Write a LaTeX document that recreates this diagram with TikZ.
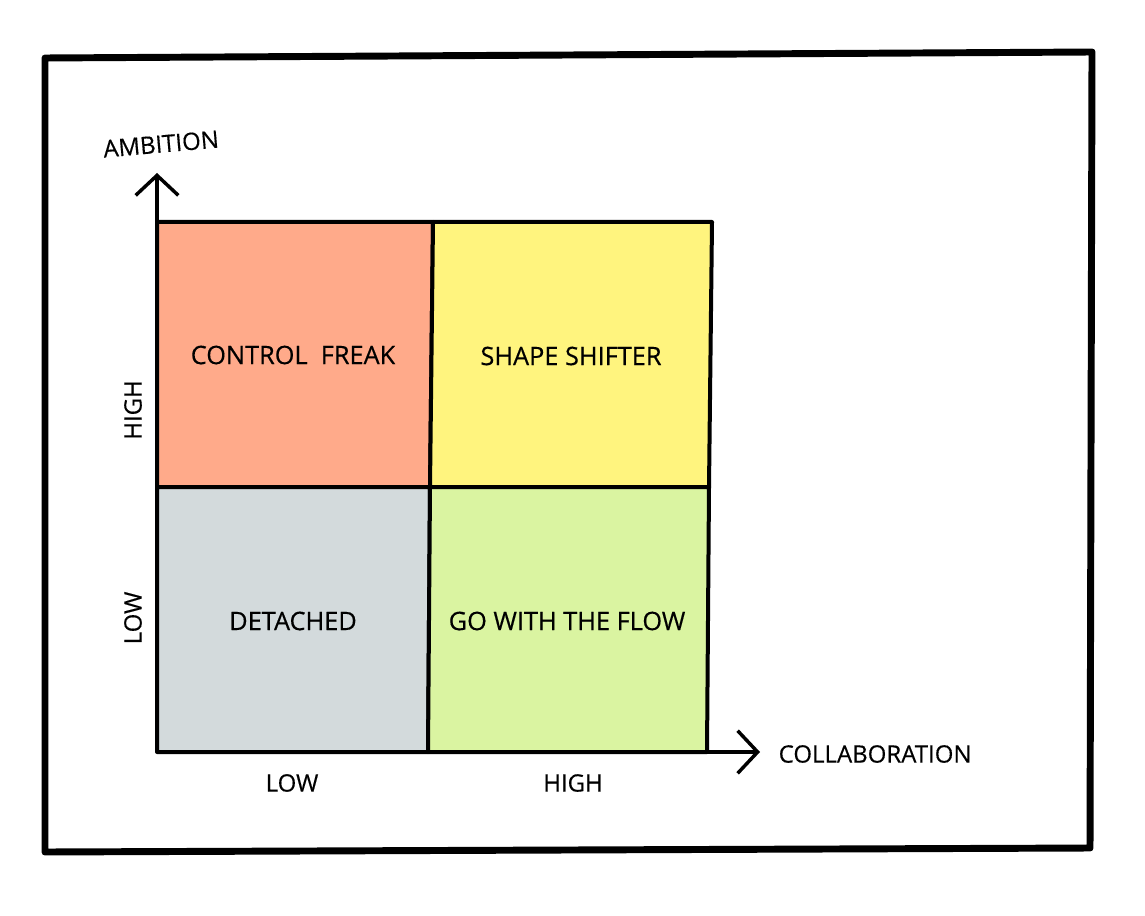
\documentclass[tikz,border=0pt]{standalone}
\usepackage{fontspec}
\setmainfont{Open Sans}[FakeBold=0.4]
\usetikzlibrary{arrows.meta}
\definecolor{freak}{HTML}{FFAA8A}
\definecolor{shifter}{HTML}{FFF47E}
\definecolor{detached}{HTML}{D3DADC}
\definecolor{flow}{HTML}{DAF4A1}
\tikzset{
  cell/.style={draw=black, line width=3pt, line join=round},
  quadlabel/.style={font=\fontsize{19}{22}\selectfont},
  axislabel/.style={font=\fontsize{18}{21}\selectfont},
  axisarrow/.style={line width=2.6pt, -{Straight Barb[length=15pt,width=32pt,line width=2.6pt]}}
}
\begin{document}
\begin{tikzpicture}[x=0.75pt,y=-0.75pt]
    \useasboundingbox (0,0) rectangle (1145,916);

    % Frame
    \draw[line width=5.2pt, line join=round] (45,58) -- (1092,52) -- (1090,848) -- (45,852) -- cycle;

    % Corners of the grid
    \coordinate (tl) at (157,222);
    \coordinate (tm) at (433,222);
    \coordinate (tr) at (712,222);
    \coordinate (ml) at (157,487);
    \coordinate (mm) at (430,487);
    \coordinate (mr) at (709,487);
    \coordinate (bl) at (157,752);
    \coordinate (bm) at (428,752);
    \coordinate (br) at (707,752);

    % Quadrants
    \filldraw[cell, fill=freak] (tl) -- (tm) -- (mm) -- (ml) -- cycle;
    \filldraw[cell, fill=shifter] (tm) -- (tr) -- (mr) -- (mm) -- cycle;
    \filldraw[cell, fill=detached] (ml) -- (mm) -- (bm) -- (bl) -- cycle;
    \filldraw[cell, fill=flow] (mm) -- (mr) -- (br) -- (bm) -- cycle;

    % Axes
    \coordinate (ytip) at (157,173);
    \coordinate (xtip) at (760,752);
    \draw[axisarrow] (bl) -- (ytip);
    \draw[axisarrow] (bl) -- (xtip);

    % Quadrant names
    \node[quadlabel] (freak) at (293,355) {CONTROL\ \ FREAK};
    \node[quadlabel] (shifter) at (571,356) {SHAPE SHIFTER};
    \node[quadlabel] (detached) at (293,621) {DETACHED};
    \node[quadlabel] (flow) at (567,621) {GO WITH THE FLOW};

    % Axis labels
    \node[axislabel, rotate=5] (ambition) at (161,144) {AMBITION};
    \node[axislabel, anchor=west] (collab) at (774,754) {COLLABORATION};
    \node[axislabel, rotate=90] (yhigh) at (133,410) {HIGH};
    \node[axislabel, rotate=90] (ylow) at (133,618) {LOW};
    \node[axislabel] (xlow) at (292,783) {LOW};
    \node[axislabel] (xhigh) at (573,783) {HIGH};
\end{tikzpicture}
\end{document}
